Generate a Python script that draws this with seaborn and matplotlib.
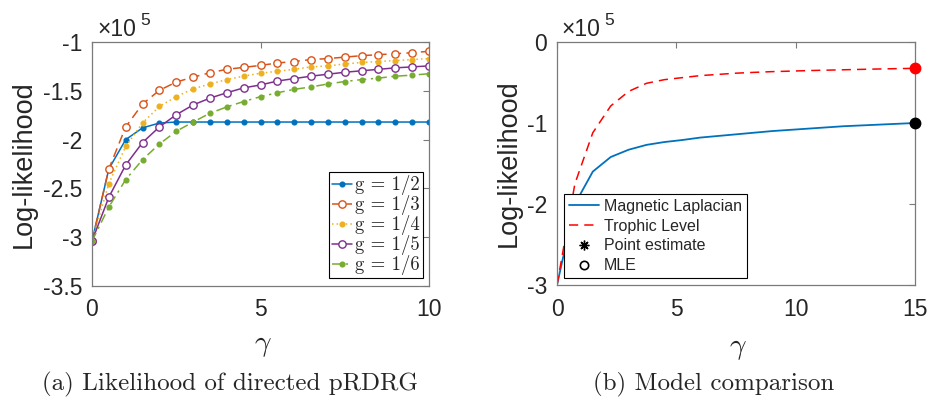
import matplotlib
matplotlib.use("Agg")
import matplotlib.pyplot as plt
import seaborn as sns
import pandas as pd

# ---- panel (a): log-likelihood of the directed pRDRG (units of 1e5) ----
gamma_a = [0, 0.5, 1, 1.5, 2, 2.5, 3, 3.5, 4, 4.5, 5,
           5.5, 6, 6.5, 7, 7.5, 8, 8.5, 9, 9.5, 10]
ll_g2 = [-3.04, -2.30, -2.00, -1.88, -1.83, -1.82, -1.82, -1.82, -1.82, -1.82, -1.82,
         -1.82, -1.82, -1.82, -1.82, -1.82, -1.82, -1.82, -1.82, -1.82, -1.82]
ll_g3 = [-3.04, -2.30, -1.87, -1.635, -1.495, -1.41, -1.36, -1.315, -1.28, -1.26, -1.24,
         -1.215, -1.20, -1.18, -1.17, -1.155, -1.14, -1.13, -1.12, -1.11, -1.095]
ll_g4 = [-3.04, -2.45, -2.07, -1.83, -1.66, -1.56, -1.48, -1.43, -1.385, -1.35, -1.32,
         -1.30, -1.28, -1.255, -1.245, -1.225, -1.21, -1.20, -1.19, -1.18, -1.17]
ll_g5 = [-3.04, -2.59, -2.26, -2.03, -1.87, -1.745, -1.645, -1.575, -1.52, -1.47, -1.44,
         -1.40, -1.375, -1.35, -1.33, -1.31, -1.295, -1.28, -1.265, -1.255, -1.245]
ll_g6 = [-3.04, -2.69, -2.41, -2.205, -2.045, -1.915, -1.82, -1.73, -1.665, -1.61, -1.56,
         -1.52, -1.485, -1.46, -1.43, -1.405, -1.385, -1.37, -1.35, -1.34, -1.325]
g_labels = ["g = 1/2", "g = 1/3", "g = 1/4", "g = 1/5", "g = 1/6"]

# ---- panel (b): model comparison (units of 1e5) ----
gamma_b = [0, 0.75, 1.5, 2.25, 3, 3.75, 4.5, 5.25, 6, 6.75, 7.5,
           8.25, 9, 9.75, 10.5, 11.25, 12, 12.75, 13.5, 14.25, 15]
ll_magnetic = [-3.0, -2.0, -1.60, -1.42, -1.33, -1.27, -1.235, -1.21, -1.18, -1.16, -1.14,
               -1.12, -1.10, -1.085, -1.07, -1.055, -1.04, -1.03, -1.02, -1.01, -1.00]
ll_trophic = [-3.0, -1.75, -1.12, -0.79, -0.61, -0.51, -0.465, -0.44, -0.415, -0.40, -0.385,
              -0.375, -0.366, -0.36, -0.353, -0.348, -0.343, -0.338, -0.333, -0.329, -0.325]
mle_gamma = 15
mle_magnetic = -1.00
mle_trophic = -0.325
model_labels = ["Magnetic Laplacian", "Trophic Level", "Point estimate", "MLE"]

sns.set_style("white")
plt.rcParams.update({
    "font.family": ["Liberation Sans", "DejaVu Sans"],
    "mathtext.fontset": "cm",
    "axes.unicode_minus": False,
    "axes.edgecolor": "#7a7a7a",
    "axes.linewidth": 0.9,
    "xtick.direction": "in",
    "ytick.direction": "in",
    "xtick.top": True,
    "ytick.right": True,
    "xtick.major.size": 4,
    "ytick.major.size": 4,
    "xtick.major.width": 0.8,
    "ytick.major.width": 0.8,
    "xtick.color": "#7a7a7a",
    "ytick.color": "#7a7a7a",
    "xtick.labelcolor": "#262626",
    "ytick.labelcolor": "#262626",
    "xtick.labelsize": 16.5,
    "ytick.labelsize": 16.5,
})

fig = plt.figure(figsize=(9.31, 4.03), dpi=100)
ax_a = fig.add_axes([92 / 931, 1 - 286 / 403, 337 / 931, 244 / 403])
ax_b = fig.add_axes([557 / 931, 1 - 285 / 403, 358 / 931, 243 / 403])

blue, orange, yellow, purple, green = "#0072BD", "#D95319", "#EDB120", "#7E2F8E", "#77AC30"

series_a = [
    (ll_g2, blue, "-", "o", 3.4, blue),
    (ll_g3, orange, (0, (6, 3.5)), "o", 5.3, "white"),
    (ll_g4, yellow, (0, (1, 2)), "o", 3.4, yellow),
    (ll_g5, purple, "-", "o", 5.3, "white"),
    (ll_g6, green, (0, (6, 3, 1.5, 3)), "o", 3.4, green),
]
for (vals, col, ls, mk, ms, mfc), lab in zip(series_a, g_labels):
    df = pd.DataFrame({"gamma": gamma_a, "ll": vals})
    sns.lineplot(data=df, x="gamma", y="ll", ax=ax_a, color=col, linestyle=ls,
                 linewidth=1.1, marker=mk, markersize=ms, markerfacecolor=mfc,
                 markeredgecolor=col, markeredgewidth=1.0, label=lab)

ax_a.set_xlim(0, 10)
ax_a.set_ylim(-3.5, -1)
ax_a.set_xticks([0, 5, 10])
ax_a.set_yticks([-1, -1.5, -2, -2.5, -3, -3.5])
ax_a.set_yticklabels(["-1", "-1.5", "-2", "-2.5", "-3", "-3.5"])
ax_a.tick_params(axis="x", pad=9)
ax_a.tick_params(axis="y", pad=7)
leg_a = ax_a.legend(loc="lower right", bbox_to_anchor=(0.982, 0.033), borderaxespad=0,
                    prop={"family": "cmr10", "size": 13.5}, handlelength=1.05,
                    handletextpad=0.2, labelspacing=0.0, borderpad=0.15,
                    fancybox=False, framealpha=1, edgecolor="black")
leg_a.get_frame().set_linewidth(0.8)

# panel (b)
df_m = pd.DataFrame({"gamma": gamma_b, "ll": ll_magnetic})
df_t = pd.DataFrame({"gamma": gamma_b, "ll": ll_trophic})
sns.lineplot(data=df_m, x="gamma", y="ll", ax=ax_b, color=blue, linewidth=1.3,
             label=model_labels[0])
sns.lineplot(data=df_t, x="gamma", y="ll", ax=ax_b, color="#FF0000", linewidth=1.1,
             linestyle=(0, (6, 4)), label=model_labels[1])
asterisk = (8, 2, 0)
for yv, col in [(mle_trophic, "#FF0000"), (mle_magnetic, "black")]:
    ax_b.plot([mle_gamma], [yv], marker="o", markersize=7.5, color=col,
              markerfacecolor=col, linestyle="none", clip_on=False, zorder=5)
    ax_b.plot([mle_gamma], [yv], marker=asterisk, markersize=7, color=col,
              markeredgewidth=1.0, linestyle="none", clip_on=False, zorder=6)
ax_b.plot([], [], marker=asterisk, markersize=7, color="black", markeredgewidth=1.0,
          linestyle="none", label=model_labels[2])
ax_b.plot([], [], marker="o", markersize=6, color="black", markerfacecolor="none",
          markeredgewidth=1.2, linestyle="none", label=model_labels[3])

ax_b.set_xlim(0, 15)
ax_b.set_ylim(-3, 0)
ax_b.set_xticks([0, 5, 10, 15])
ax_b.set_yticks([0, -1, -2, -3])
ax_b.set_yticklabels(["0", "-1", "-2", "-3"])
ax_b.tick_params(axis="x", pad=9)
ax_b.tick_params(axis="y", pad=7)
leg_b = ax_b.legend(loc="lower left", bbox_to_anchor=(0.0196, 0.029), borderaxespad=0,
                    prop={"size": 11.5}, handlelength=1.9, handletextpad=0.3,
                    labelspacing=0.3, borderpad=0.3, fancybox=False, framealpha=1,
                    edgecolor="black")
leg_b.get_frame().set_linewidth(0.8)

for ax, xlab_pos, ylab_x in [(ax_a, (0.507, -0.185), -0.165), (ax_b, (0.506, -0.2), -0.098)]:
    ax.set_xlabel(r"$\gamma$", fontsize=21)
    ax.xaxis.set_label_coords(*xlab_pos)
    ax.set_ylabel("Log-likelihood", fontsize=19.5, color="#262626")
    ax.yaxis.set_label_coords(ylab_x, 0.5)

# exponent labels
fig.text(97 / 931, 1 - 36 / 403, "\u00d710", fontsize=16.5, color="#262626", va="baseline")
fig.text(140 / 931, 1 - 25 / 403, "5", fontsize=12.5, color="#262626", va="baseline")
fig.text(561 / 931, 1 - 36 / 403, "\u00d710", fontsize=16.5, color="#262626", va="baseline")
fig.text(604 / 931, 1 - 25 / 403, "5", fontsize=12.5, color="#262626", va="baseline")

# sub-figure captions in Computer Modern roman
fig.text(230.5 / 931, 1 - 390 / 403, "(a) Likelihood of directed pRDRG",
         family="cmr10", fontsize=18, ha="center", va="baseline")
fig.text(714 / 931, 1 - 390 / 403, "(b) Model comparison",
         family="cmr10", fontsize=18, ha="center", va="baseline")

fig.savefig("out.png", dpi=100)
